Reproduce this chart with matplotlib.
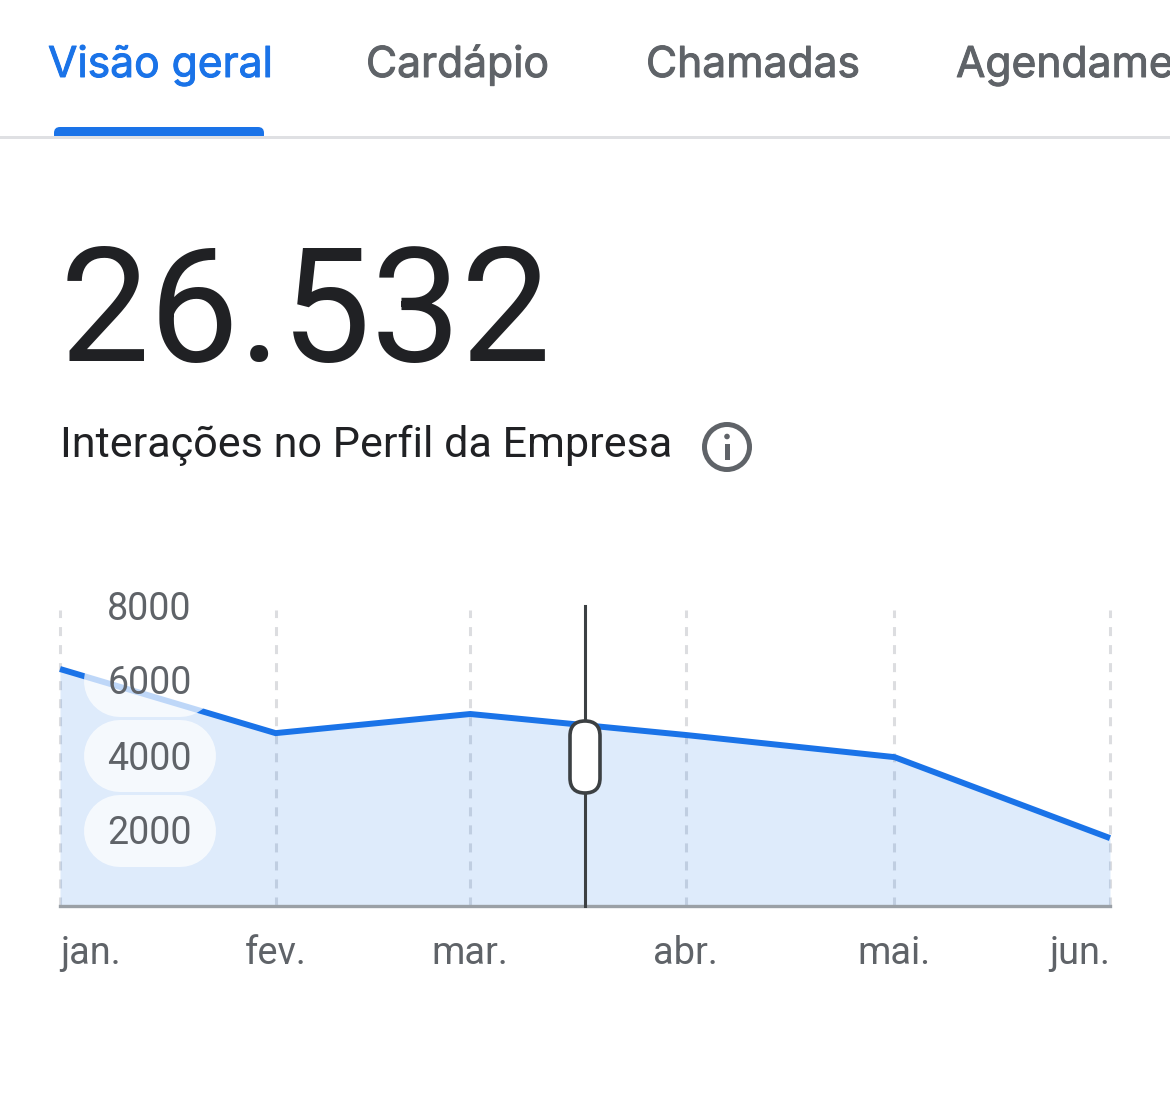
import matplotlib
matplotlib.use('Agg')
import matplotlib.pyplot as plt
import matplotlib.patheffects as pe
from matplotlib.patches import FancyBboxPatch, Circle, Rectangle
from matplotlib.transforms import blended_transform_factory

# days since 1 jan for each month start
month_days = [0, 31, 59, 90, 120, 151]
month_labels = ['jan.', 'fev.', 'mar.', 'abr.', 'mai.', 'jun.']
interactions = [6320, 4610, 5120, 4560, 3970, 1810]
y_ticks = [8000, 6000, 4000, 2000]
cursor_day = 75.5

tabs = ['Visão geral', 'Cardápio', 'Chamadas', 'Agendamentos']
tab_x = [48, 366, 646, 956]
total = '26.532'
subtitle = 'Interações no Perfil da Empresa'

BLUE = '#1a73e8'
GREY = '#5f6368'
DARK = '#202124'
W, H = 1170, 1097

plt.rcParams['font.family'] = ['Roboto', 'DejaVu Sans']


def pt(px):
    return px * 72 / 100


fig = plt.figure(figsize=(W / 100, H / 100), dpi=100, facecolor='white')

# pixel-sized layer for the page header
ui = fig.add_axes([0, 0, 1, 1], zorder=0)
ui.set_xlim(0, W)
ui.set_ylim(H, 0)
ui.axis('off')

for i in range(len(tabs)):
    col = BLUE if i == 0 else GREY
    t = ui.text(tab_x[i], 77, tabs[i], fontsize=pt(42.6), va='baseline', ha='left',
                color=col, family=['Inter', 'DejaVu Sans'])
    # Inter regular is a little light for the tabs
    t.set_path_effects([pe.withStroke(linewidth=0.7, foreground=col)])

ui.add_patch(FancyBboxPatch((54, 127), 210, 14, boxstyle='round,pad=0,rounding_size=6',
                            fc=BLUE, ec='none'))
ui.add_patch(Rectangle((0, 136), W, 3, fc='#dfe0e3', ec='none', zorder=3))
ui.add_patch(Rectangle((0, 139), W, 10, fc='white', ec='none', zorder=3))

ui.text(60, 361, total, fontsize=pt(160), va='baseline', ha='left', color=DARK)
ui.text(60, 457, subtitle, fontsize=pt(43.2), va='baseline', ha='left', color=DARK)

# info icon
ui.add_patch(Circle((727, 447), 22.5, fc='none', ec=GREY, lw=3.6))
ui.add_patch(Circle((727, 436.5), 2.8, fc=GREY, ec='none'))
ui.add_patch(Rectangle((724.5, 444), 5, 16, fc=GREY, ec='none'))

# chart area: 60-1110 px across, 606-906 px down
ax = fig.add_axes([60 / W, 1 - 906 / H, 1050 / W, 300 / H], zorder=1)
ax.patch.set_visible(False)
ax.set_xlim(month_days[0], month_days[-1])
ax.set_ylim(0, 8000)
for side in ['top', 'left', 'right']:
    ax.spines[side].set_visible(False)
ax.spines['bottom'].set_color('#9aa0a6')
ax.spines['bottom'].set_linewidth(2.4)
ax.set_axisbelow(False)

ax.vlines(month_days, 0, 7890, colors='#dcdde0', linestyles=(0, (2.95, 2.95)),
          linewidth=2.2, zorder=1, clip_on=False)
ax.fill_between(month_days, interactions, 0, color='#1a73e8', alpha=0.14, lw=0, zorder=1.2)
ax.plot(month_days, interactions, color=BLUE, lw=4.3, zorder=2, solid_capstyle='butt',
        solid_joinstyle='miter', clip_on=False)

# pills behind the y labels, a thick round-capped stroke in px
for val in y_ticks[1:]:
    yc = ui.transData.inverted().transform(ax.transData.transform((0, val)))[1]
    ax.plot([120, 180], [yc, yc], transform=ui.transData, color='white', alpha=0.72,
            lw=pt(72), solid_capstyle='round', zorder=2.2, clip_on=False)

# y labels nudged down a bit from the text box centre
trans_y = blended_transform_factory(ui.transData, ax.transData)
for val in y_ticks:
    ax.annotate(str(val), (149.5, val), xycoords=trans_y, xytext=(0, pt(-3)),
                textcoords='offset points', fontsize=pt(37.5), color=GREY,
                ha='center', va='center', zorder=3, annotation_clip=False)

ax.set_yticks([])
ax.set_xticks(month_days)
ax.set_xticklabels(month_labels, fontsize=pt(38), color=GREY)
ax.tick_params(axis='x', length=0, pad=pt(29))
ticklabels = ax.get_xticklabels()
ticklabels[0].set_ha('left')
ticklabels[-1].set_ha('right')

# hover cursor and its handle
ax.plot([cursor_day, cursor_day], [0, 8000], color='#3c4043', lw=2.2, zorder=4, clip_on=False)
ax.add_patch(FancyBboxPatch((570, 721), 30, 72, boxstyle='round,pad=0,rounding_size=15',
                            fc='white', ec='#3c4043', lw=2.6, transform=ui.transData,
                            zorder=5, clip_on=False))

fig.savefig('out.png', dpi=100, facecolor='white')
